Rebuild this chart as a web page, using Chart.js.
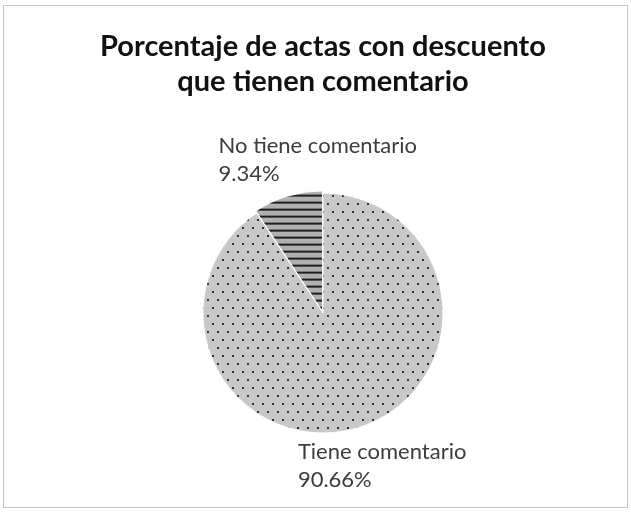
<!DOCTYPE html>
<html><head><meta charset="utf-8">
<script src="https://cdn.jsdelivr.net/npm/chart.js@4/dist/chart.umd.min.js"></script>
<style>html,body{margin:0;padding:0;background:#fff}#wrap{width:631px;height:512px}</style>
</head><body><div id="wrap"><canvas id="c" width="631" height="512"></canvas></div>
<script>
const titleLines = ["Porcentaje de actas con descuento", "que tienen comentario"];
const categories = ["Tiene comentario", "No tiene comentario"];
const percentages = [90.66, 9.34];
const valueLabels = ["90.66%", "9.34%"];

function dotPattern() {
  const c = document.createElement('canvas'); c.width = 10; c.height = 16;
  const g = c.getContext('2d');
  g.fillStyle = '#c8c8c8'; g.fillRect(0, 0, 10, 16);
  g.fillStyle = '#333333';
  g.fillRect(2, 3, 2, 2); g.fillRect(7, 11, 2, 2);
  return g.createPattern(c, 'repeat');
}
function stripePattern() {
  const c = document.createElement('canvas'); c.width = 8; c.height = 7;
  const g = c.getContext('2d');
  g.fillStyle = '#b0b0b0'; g.fillRect(0, 0, 8, 7);
  g.fillStyle = '#1e1e1e'; g.fillRect(0, 0, 8, 2);
  return g.createPattern(c, 'repeat');
}

const frame = {
  id: 'frame',
  beforeDraw(chart) {
    const ctx = chart.ctx;
    ctx.save();
    ctx.fillStyle = '#fff'; ctx.fillRect(0, 0, chart.width, chart.height);
    ctx.strokeStyle = '#c4c4c4'; ctx.lineWidth = 1;
    ctx.strokeRect(3.5, 5.5, 624, 502);
    ctx.restore();
  }
};

const outLabels = {
  id: 'outLabels',
  afterDatasetsDraw(chart, args, opts) {
    const ctx = chart.ctx;
    const meta = chart.getDatasetMeta(0);
    ctx.save();
    ctx.font = opts.font;
    ctx.fillStyle = '#3c3c3c';
    ctx.textBaseline = 'middle';
    ctx.textAlign = 'left';
    meta.data.forEach((arc, i) => {
      const p = arc.getProps(['x', 'y', 'startAngle', 'endAngle', 'outerRadius'], true);
      const mid = (p.startAngle + p.endAngle) / 2;
      const r = p.outerRadius * opts.radiusFactor;
      const cx = p.x + Math.cos(mid) * r + opts.nudge[i];
      const cy = p.y + Math.sin(mid) * r;
      const l1 = categories[i], l2 = valueLabels[i];
      const w = Math.max(ctx.measureText(l1).width, ctx.measureText(l2).width);
      const left = cx - w / 2;
      ctx.fillText(l1, left, cy - opts.lineGap / 2);
      ctx.fillText(l2, left, cy + opts.lineGap / 2);
    });
    ctx.restore();
  }
};

new Chart(document.getElementById('c'), {
  type: 'pie',
  data: {
    labels: categories,
    datasets: [{
      data: percentages,
      backgroundColor: [dotPattern(), stripePattern()],
      borderColor: '#ffffff',
      borderWidth: 1,
      offset: [0, 6]
    }]
  },
  options: {
    responsive: false,
    animation: false,
    radius: 120,
    layout: { padding: { left: 15, right: 0, top: 0, bottom: 79 } },
    plugins: {
      legend: { display: false },
      tooltip: { enabled: false },
      title: {
        display: true,
        text: titleLines,
        color: '#111111',
        font: { family: 'Lato', size: 29, weight: 'bold', lineHeight: 1.207 },
        padding: { top: 29, bottom: 94 }
      },
      outLabels: { font: '22px Lato', lineGap: 28, radiusFactor: 1.33, nudge: [13, 41] }
    }
  },
  plugins: [frame, outLabels]
});
</script></body></html>
